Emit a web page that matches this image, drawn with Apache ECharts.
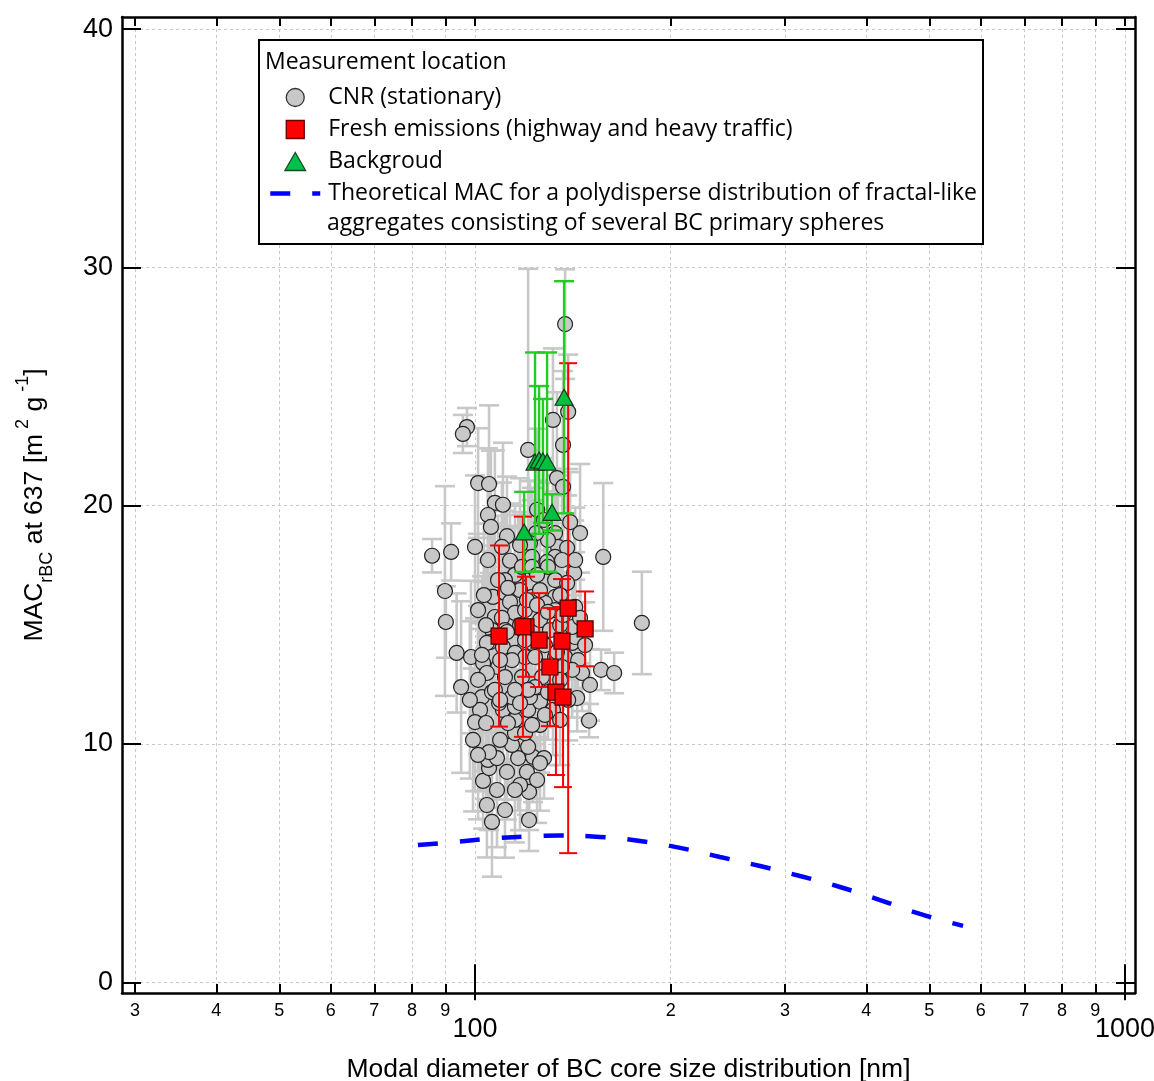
<!DOCTYPE html>
<html>
<head>
<meta charset="utf-8">
<script src="https://cdn.jsdelivr.net/npm/echarts@6/dist/echarts.min.js"></script>
<style>
  html, body { margin: 0; padding: 0; background: #ffffff; }
  #chart { width: 1154px; height: 1081px; }
</style>
</head>
<body>
<div id="chart"></div>
<script>
// CNR (stationary) site: modal BC core diameter [nm], MAC [m2/g] and its 1-sigma uncertainty
const cnrDiam = [137.6, 97.2, 95.8, 139.1, 131.8, 120.7, 136.6, 101.1, 105.1, 133.7,
  136.6, 107.3, 110.4, 104.7, 105.8, 124.6, 112.0, 100.0, 91.9, 85.9,
  145.1, 140.1, 132.8, 134.2, 129.5, 124.2, 121.5, 122.4, 110.0, 113.2,
  138.6, 132.8, 129.1, 136.1, 157.5, 89.9, 90.2, 180.6, 93.7, 98.6,
  95.2, 156.3, 163.7, 149.8, 143.6, 99.3, 104.3, 106.2, 121.1, 121.1,
  102.9, 108.1, 105.1, 112.0, 104.7, 108.1, 120.2, 116.5, 122.8, 127.7,
  125.9, 114.0, 120.7, 115.2, 119.4, 125.9, 122.4, 115.2, 110.4, 115.2,
  120.7, 125.9, 121.5, 114.0, 131.8, 112.4, 108.9, 102.5, 106.2, 101.8,
  100.0, 104.0, 105.1, 106.6, 111.2, 113.2, 116.5, 115.2, 118.1, 122.4,
  129.5, 142.1, 132.8, 138.6, 132.8, 128.1, 122.4, 107.3, 115.2, 106.2,
  105.5, 104.3, 114.0, 110.4, 122.4, 115.2, 119.4, 123.7, 114.0, 108.5,
  102.9, 104.3, 111.2, 118.1, 126.8, 137.6, 141.1, 142.6, 141.1, 132.8,
  142.6, 144.1, 146.1, 141.1, 132.8, 136.1, 123.7, 107.3, 104.0, 110.0,
  102.5, 117.3, 125.9, 135.2, 119.4, 125.9, 130.4, 117.3, 111.2, 128.1,
  135.2, 120.7, 129.5, 135.2, 115.2, 109.3, 139.1, 124.6, 111.2,
  101.1, 103.2, 108.5, 112.4, 120.2, 124.6, 129.5, 136.6, 145.1, 112.0,
  119.4, 133.7, 147.7, 150.3, 109.3, 117.3, 128.1, 135.2, 101.1, 98.2,
  101.1, 109.3, 117.3, 124.6, 111.2, 115.2, 104.7, 117.3, 127.7, 142.6];
const cnrMac = [27.62, 23.30, 23.01, 23.94, 23.60, 22.34, 22.55, 20.95, 20.91, 21.16,
  20.79, 20.12, 20.04, 19.61, 19.11, 19.83, 18.72, 18.27, 18.06, 17.90,
  18.85, 19.31, 18.85, 18.27, 18.56, 18.85, 18.43, 17.85, 18.27, 17.69,
  18.23, 17.85, 17.64, 17.72, 17.85, 16.42, 15.12, 15.08, 13.82, 13.65,
  12.39, 13.11, 12.98, 10.98, 11.93, 10.17, 7.44, 6.73, 6.81, 7.99,
  8.45, 8.07, 8.99, 8.83, 9.33, 9.41, 8.83, 9.41, 9.46, 9.41,
  9.20, 9.96, 9.88, 10.46, 10.46, 10.80, 10.80, 11.01, 11.43, 11.56,
  11.43, 11.77, 11.97, 11.97, 11.43, 10.88, 11.72, 11.97, 12.18, 11.43,
  10.92, 10.88, 9.66, 16.17, 16.34, 15.96, 17.01, 17.10, 17.43, 17.43,
  17.43, 17.18, 16.88, 16.76, 16.17, 15.92, 16.17, 15.33, 15.50, 14.78,
  14.28, 14.24, 14.36, 14.07, 14.24, 13.82, 13.65, 13.65, 13.52, 13.23,
  13.40, 12.98, 12.81, 12.81, 12.81, 13.65, 14.24, 14.49, 14.91, 15.62,
  15.75, 13.52, 12.98, 13.11, 13.65, 13.23, 12.39, 12.27, 14.99, 15.29,
  13.74, 16.46, 16.46, 16.25, 15.62, 15.20, 14.78, 14.99, 14.78, 14.15,
  14.99, 12.27, 12.18, 12.69, 12.27, 13.52, 11.85, 17.10, 16.88,
  15.62, 16.25, 16.88, 16.55, 16.04, 15.83, 15.54, 15.41, 15.29, 14.70,
  14.36, 13.86, 14.15, 12.48, 11.85, 11.72, 11.22, 11.01, 12.69, 11.85,
  9.54, 10.17, 8.28, 8.49, 7.23, 8.07, 17.72, 18.35, 19.40, 17.72];
const cnrErr = [2.3, 0.8, 0.8, 2.4, 3.0, 7.6, 3.1, 2.3, 3.3, 3.6,
  2.9, 2.2, 2.6, 2.8, 3.2, 3.4, 2.5, 3.0, 1.2, 0.7,
  2.9, 2.1, 2.7, 3.0, 2.4, 2.2, 2.6, 2.9, 2.7, 2.4,
  2.2, 2.6, 2.0, 2.7, 3.1, 4.4, 1.5, 2.15, 2.5, 3.2,
  3.6, 0.85, 0.85, 0.7, 1.4, 3.0, 2.2, 2.3, 1.3, 1.6,
  2.0, 2.4, 2.6, 2.0, 2.9, 2.1, 1.8, 2.2, 1.9, 1.7,
  2.0, 2.3, 1.9, 2.4, 2.1, 2.0, 2.3, 2.6, 2.4, 2.2,
  2.0, 2.3, 2.5, 2.1, 1.9, 2.7, 2.8, 3.1, 2.6, 3.4,
  2.9, 3.2, 2.8, 3.1, 2.7, 2.5, 2.6, 2.9, 2.3, 2.8,
  2.4, 2.2, 2.1, 2.5, 2.3, 2.6, 2.2, 3.0, 2.4, 3.3,
  2.9, 3.5, 2.6, 2.8, 2.3, 2.5, 2.2, 2.0, 2.4, 2.7,
  3.4, 3.0, 2.6, 2.3, 2.1, 1.9, 2.0, 2.4, 2.2, 2.5,
  2.3, 1.8, 1.6, 2.0, 2.2, 2.1, 2.4, 2.9, 3.1, 2.8,
  3.3, 2.6, 2.4, 2.2, 2.5, 2.3, 2.1, 2.6, 2.9, 2.2,
  2.0, 2.3, 2.0, 1.9, 2.5, 2.8, 1.7, 2.5, 2.9,
  3.2, 3.0, 2.7, 2.6, 2.4, 2.3, 2.2, 2.1, 1.9, 2.8,
  2.5, 2.1, 1.8, 1.5, 2.6, 2.4, 2.1, 1.9, 3.1, 3.3,
  2.7, 2.5, 1.9, 1.8, 2.0, 2.2, 3.2, 2.8, 2.6, 2.2];

// Fresh emissions (highway and heavy traffic)
const freshDiam = [108.9, 119.8, 118.5, 125.5, 139.1, 147.7, 136.1, 130.4, 133.2, 136.6];
const freshMac  = [14.53, 14.92, 14.92, 14.36, 15.70, 14.83, 14.32, 13.23, 12.18, 11.97];
const freshErr  = [3.80, 2.10, 4.62, 1.97, 10.28, 1.57, 2.60, 2.48, 3.48, 3.78];

// Background
const bgDiam = [137.1, 123.7, 125.5, 127.2, 129.1, 119.0, 131.4];
const bgMac  = [24.55, 21.83, 21.92, 21.88, 21.83, 18.90, 19.72];
const bgErr  = [4.87, 4.60, 3.10, 2.60, 4.60, 1.68, 0.76];

// Theoretical MAC curve for polydisperse fractal-like aggregates
const theoryDiam = [81.7, 91.5, 109.3, 125.9, 135.1, 155.7, 179.4, 206.8, 238.2, 274.5, 316.2, 364.4, 419.9, 483.8, 563.5];
const theoryMac  = [5.76, 5.87, 6.06, 6.14, 6.16, 6.10, 5.93, 5.64, 5.26, 4.88, 4.46, 4.00, 3.45, 2.87, 2.37];

// Axis ticks: minor ticks carry a mantissa digit, decades carry the full value
const xTickValues = [30, 40, 50, 60, 70, 80, 90, 100, 200, 300, 400, 500, 600, 700, 800, 900, 1000];
const xMinorLabels = [30, 40, 50, 60, 70, 80, 90, 200, 300, 400, 500, 600, 700, 800, 900];
const xMajorTicks = [100, 1000];
const yTickValues = [0, 10, 20, 30, 40];

const NAME_CNR = 'CNR (stationary)';
const NAME_FRESH = 'Fresh emissions (highway and heavy traffic)';
const NAME_BG = 'Backgroud';
const NAME_THEORY = 'Theoretical MAC for a polydisperse distribution of fractal-like';

const AXIS_FONT = 'Liberation Sans, Arial, sans-serif';
const LEGEND_FONT = 'Open Sans, sans-serif';
const LEGEND_SIZE = 23;

function errorBars(color, capHalf, width) {
  return function (params, api) {
    const x = api.value(0), y = api.value(1), e = api.value(2);
    const hi = api.coord([x, y + e]);
    const lo = api.coord([x, y - e]);
    const style = { stroke: color, lineWidth: width };
    return {
      type: 'group',
      children: [
        { type: 'line', shape: { x1: hi[0], y1: hi[1], x2: lo[0], y2: lo[1] }, style: style },
        { type: 'line', shape: { x1: hi[0] - capHalf, y1: hi[1], x2: hi[0] + capHalf, y2: hi[1] }, style: style },
        { type: 'line', shape: { x1: lo[0] - capHalf, y1: lo[1], x2: lo[0] + capHalf, y2: lo[1] }, style: style }
      ]
    };
  };
}

const triples = (xs, ys, es) => xs.map((d, i) => [d, ys[i], es[i]]);
const pairs = (xs, ys) => xs.map((d, i) => [d, ys[i]]);

function mantissa(val) {
  const v = Math.round(val);
  const p = Math.pow(10, Math.floor(Math.log10(v) + 1e-9));
  return String(Math.round(v / p));
}

const xMin = 28.637, xMax = 1036.06;
const yMin = -0.449, yMax = 40.507;

const logAxisBase = {
  type: 'log', logBase: 10, min: xMin, max: xMax,
  axisLine: { show: false },
  axisLabel: { show: false },
  splitLine: { show: false },
  axisTick: { show: false }
};

const chart = echarts.init(document.getElementById('chart'), null, { renderer: 'canvas' });

chart.setOption({
  backgroundColor: '#ffffff',
  animation: false,
  grid: { left: 122, top: 17, right: 19, bottom: 88, containLabel: false, outerBoundsMode: 'none' },
  xAxis: [
    Object.assign({}, logAxisBase, {
      position: 'bottom',
      axisLine: { show: true, onZero: false, lineStyle: { color: '#000', width: 2.5 } },
      axisTick: { show: true, inside: true, length: 9, customValues: xTickValues, lineStyle: { color: '#000', width: 2 } },
      axisLabel: {
        show: true, margin: 9, customValues: xMinorLabels, formatter: mantissa,
        fontSize: 18, fontFamily: AXIS_FONT, color: '#000'
      },
      splitLine: { show: true, lineStyle: { color: '#c8c8c8', width: 1, type: [3, 3] } },
      name: 'Modal diameter of BC core size distribution [nm]',
      nameLocation: 'middle', nameGap: 63,
      nameTextStyle: { fontSize: 26.5, fontFamily: AXIS_FONT, color: '#000' }
    }),
    Object.assign({}, logAxisBase, {
      position: 'bottom',
      axisTick: { show: true, inside: true, length: 18, customValues: xMajorTicks, lineStyle: { color: '#000', width: 2 } },
      axisLabel: {
        show: true, margin: 23, customValues: xMajorTicks, showMinLabel: true, showMaxLabel: true,
        formatter: v => String(Math.round(v)),
        fontSize: 27, fontFamily: AXIS_FONT, color: '#000'
      }
    }),
    Object.assign({}, logAxisBase, {
      position: 'top',
      axisLine: { show: true, onZero: false, lineStyle: { color: '#000', width: 2.5 } },
      axisTick: { show: true, inside: true, length: 9, customValues: xTickValues, lineStyle: { color: '#000', width: 2 } }
    }),
    Object.assign({}, logAxisBase, {
      position: 'top',
      axisTick: { show: true, inside: true, length: 18, customValues: xMajorTicks, lineStyle: { color: '#000', width: 2 } }
    })
  ],
  yAxis: [
    {
      type: 'value', position: 'left', min: yMin, max: yMax,
      axisLine: { show: true, onZero: false, lineStyle: { color: '#000', width: 2.5 } },
      axisTick: { show: true, inside: true, length: 19, customValues: yTickValues, lineStyle: { color: '#000', width: 2 } },
      axisLabel: { show: true, margin: 9, customValues: yTickValues, showMinLabel: true, showMaxLabel: true,
        fontSize: 27, fontFamily: AXIS_FONT, color: '#000' },
      splitLine: { show: true, lineStyle: { color: '#c8c8c8', width: 1, type: [3, 3] } },
      name: '{m|MAC}{s|rBC}{m| at 637 [m}{p| 2}{m| g}{p| -1}{m|]}',
      nameLocation: 'middle', nameRotate: 90, nameGap: 66,
      nameTextStyle: {
        rich: {
          m: { fontSize: 26.5, fontFamily: AXIS_FONT, color: '#000', lineHeight: 42 },
          s: { fontSize: 18, fontFamily: AXIS_FONT, color: '#000', lineHeight: 22, verticalAlign: 'bottom' },
          p: { fontSize: 18, fontFamily: AXIS_FONT, color: '#000', lineHeight: 18, verticalAlign: 'top' }
        }
      }
    },
    {
      type: 'value', position: 'right', min: yMin, max: yMax,
      axisLine: { show: true, onZero: false, lineStyle: { color: '#000', width: 2.5 } },
      axisTick: { show: true, inside: true, length: 19, customValues: yTickValues, lineStyle: { color: '#000', width: 2 } },
      axisLabel: { show: false },
      splitLine: { show: false }
    }
  ],
  legend: {
    orient: 'vertical', left: 268, top: 86, padding: 0, z: 20,
    itemWidth: 50, itemHeight: 18, itemGap: 9,
    selectedMode: false,
    formatter: name => '{t|' + name + '}',
    textStyle: {
      color: '#000', fontFamily: LEGEND_FONT, fontSize: LEGEND_SIZE,
      rich: { t: { color: '#000', fontFamily: LEGEND_FONT, fontSize: LEGEND_SIZE, padding: [0, 0, 0, 3] } }
    },
    data: [
      { name: NAME_CNR, icon: 'circle', itemStyle: { color: '#c8c8c8', borderColor: '#333', borderWidth: 1.3 } },
      { name: NAME_FRESH, icon: 'path://M0,0H10V10H0Z', itemStyle: { color: '#ff0000', borderColor: '#6a0000', borderWidth: 1.3 } },
      { name: NAME_BG, icon: 'path://M5,0L10,8.7L0,8.7Z', itemStyle: { color: '#00c050', borderColor: '#1a4a1a', borderWidth: 1.3 } },
      { name: NAME_THEORY,
        itemStyle: { color: 'rgba(0,0,0,0)', borderColor: 'rgba(0,0,0,0)', borderWidth: 0 },
        lineStyle: { color: '#0000ff', width: 4.5, type: [20, 22], cap: 'butt' } }
    ]
  },
  graphic: [
    { type: 'rect', z: 10, shape: { x: 259, y: 40, width: 724, height: 204 },
      style: { fill: '#ffffff', stroke: '#000', lineWidth: 2 } },
    { type: 'text', z: 21, x: 265, y: 62,
      style: { text: 'Measurement location', fontSize: LEGEND_SIZE, fontFamily: LEGEND_FONT, fill: '#000', verticalAlign: 'middle' } },
    { type: 'text', z: 21, x: 327, y: 223,
      style: { text: 'aggregates consisting of several BC primary spheres', fontSize: LEGEND_SIZE, fontFamily: LEGEND_FONT, fill: '#000', verticalAlign: 'middle' } }
  ],
  series: [
    {
      name: 'CNR error', type: 'custom', xAxisIndex: 0, yAxisIndex: 0,
      renderItem: errorBars('#c8c8c8', 10, 2.6),
      encode: { x: 0, y: 1 },
      data: triples(cnrDiam, cnrMac, cnrErr), z: 2
    },
    {
      name: NAME_CNR, type: 'scatter', xAxisIndex: 0, yAxisIndex: 0,
      symbol: 'circle', symbolSize: 15,
      itemStyle: { color: '#c8c8c8', borderColor: '#222', borderWidth: 1.2, opacity: 1 },
      data: pairs(cnrDiam, cnrMac), z: 3
    },
    {
      name: 'Fresh error', type: 'custom', xAxisIndex: 0, yAxisIndex: 0,
      renderItem: errorBars('#ff0000', 9, 2),
      encode: { x: 0, y: 1 },
      data: triples(freshDiam, freshMac, freshErr), z: 4
    },
    {
      name: NAME_FRESH, type: 'scatter', xAxisIndex: 0, yAxisIndex: 0,
      symbol: 'rect', symbolSize: 16,
      itemStyle: { color: '#ff0000', borderColor: '#4a0000', borderWidth: 1.2, opacity: 1 },
      data: pairs(freshDiam, freshMac), z: 5
    },
    {
      name: 'Background error', type: 'custom', xAxisIndex: 0, yAxisIndex: 0,
      renderItem: errorBars('#22cc22', 10, 2.4),
      encode: { x: 0, y: 1 },
      data: triples(bgDiam, bgMac, bgErr), z: 6
    },
    {
      name: NAME_BG, type: 'scatter', xAxisIndex: 0, yAxisIndex: 0,
      symbol: 'triangle', symbolSize: [18, 16],
      itemStyle: { color: '#00c040', borderColor: '#1a3a1a', borderWidth: 1.2, opacity: 1 },
      data: pairs(bgDiam, bgMac), z: 7
    },
    {
      name: NAME_THEORY, type: 'line', xAxisIndex: 0, yAxisIndex: 0,
      smooth: true, symbol: 'none',
      lineStyle: { color: '#0000ff', width: 4.5, type: [20, 22], cap: 'butt' },
      itemStyle: { color: '#0000ff' },
      data: pairs(theoryDiam, theoryMac), z: 8
    }
  ]
});
</script>
</body>
</html>
